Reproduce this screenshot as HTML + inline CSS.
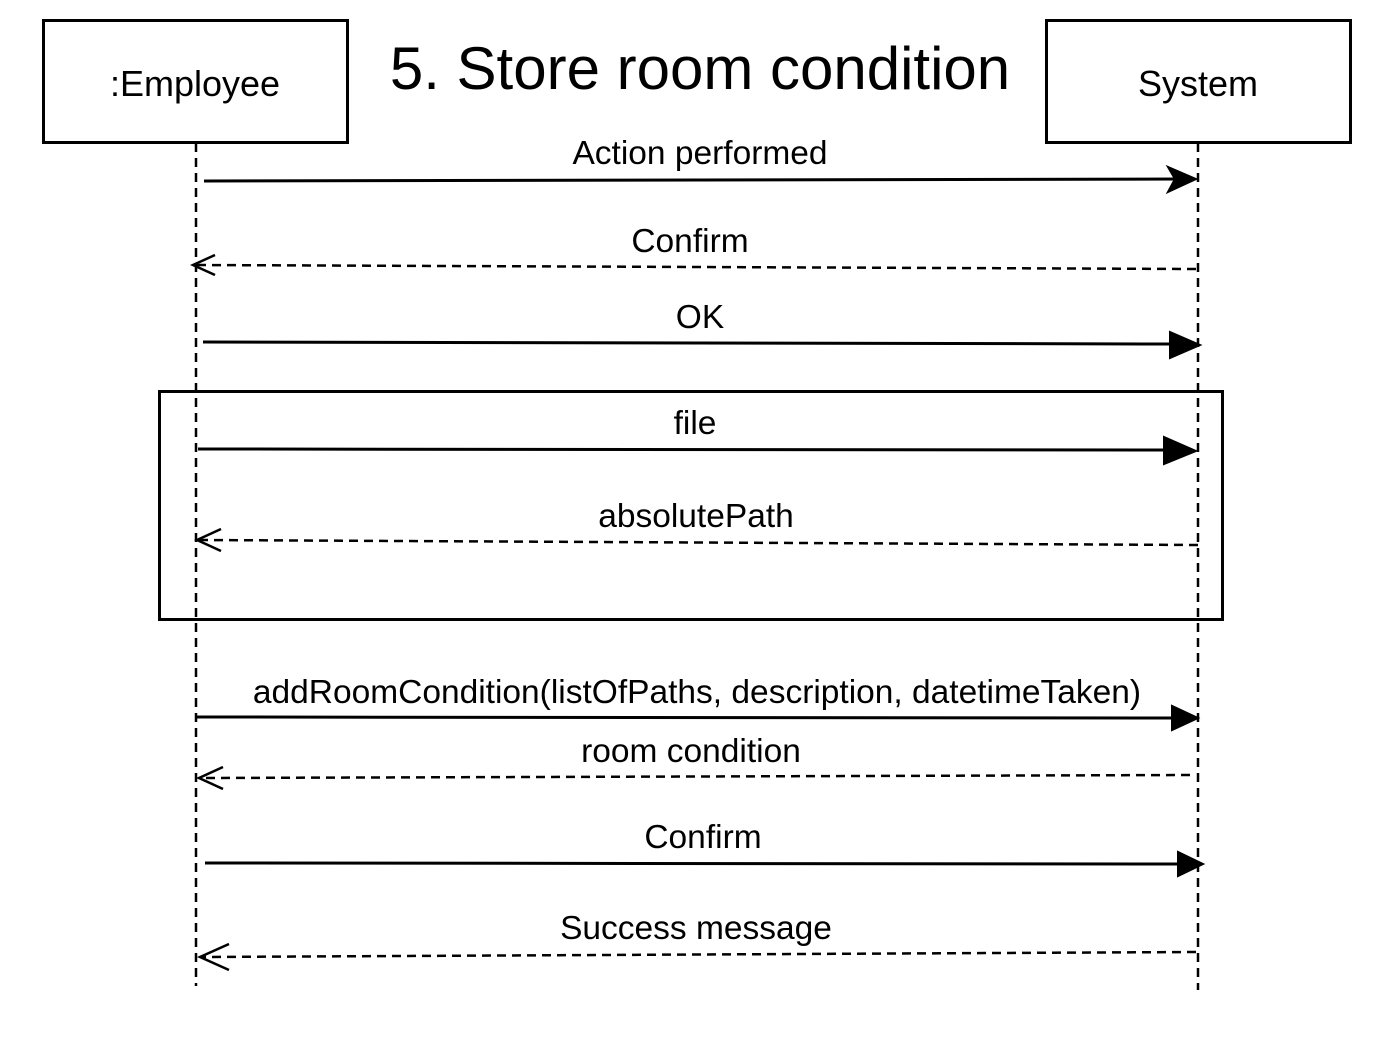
<!DOCTYPE html>
<html><head><meta charset="utf-8"><style>
html,body{margin:0;padding:0;background:#fff;}
svg{display:block;}
text{font-family:"Liberation Sans",Arial,sans-serif;fill:#000;}
</style></head><body>
<svg width="1397" height="1055" viewBox="0 0 1397 1055" xmlns="http://www.w3.org/2000/svg">
<rect x="43.5" y="20.5" width="304" height="122" fill="#fff" stroke="#000" stroke-width="3"/>
<text x="195" y="96" font-size="36" text-anchor="middle">:Employee</text>
<rect x="1046.5" y="20.5" width="304" height="122" fill="#fff" stroke="#000" stroke-width="3"/>
<text x="1198" y="96" font-size="36" text-anchor="middle">System</text>
<text x="700" y="89" font-size="60" text-anchor="middle">5. Store room condition</text>

<g stroke="#000" stroke-width="2.5" stroke-dasharray="9,6" fill="none">
<line x1="196" y1="143" x2="196" y2="986"/>
<line x1="1198" y1="143" x2="1198" y2="990"/>
</g>

<rect x="159.5" y="391.5" width="1063" height="228" fill="none" stroke="#000" stroke-width="3"/>

<g font-size="33.5" text-anchor="middle">
<text x="700" y="164">Action performed</text>
<text x="690" y="252">Confirm</text>
<text x="700" y="328">OK</text>
<text x="695" y="434">file</text>
<text x="696" y="527">absolutePath</text>
<text x="697" y="703">addRoomCondition(listOfPaths, description, datetimeTaken)</text>
<text x="691" y="762">room condition</text>
<text x="703" y="848">Confirm</text>
<text x="696" y="939">Success message</text>
</g>

<g stroke="#000" stroke-width="3" fill="none">
<line x1="204" y1="181" x2="1180" y2="179"/>
<line x1="203" y1="342" x2="1172" y2="344"/>
<line x1="198" y1="449" x2="1166" y2="450"/>
<line x1="197" y1="717" x2="1172" y2="718"/>
<line x1="205" y1="863" x2="1178" y2="864"/>
</g>
<g fill="#000" stroke="#000" stroke-width="2">
<path d="M1196,179 L1168,167 L1175,179 L1168,192 Z"/>
<path d="M1200,345 L1170,332 L1170,358 Z"/>
<path d="M1196,451 L1164,437 L1164,464 Z"/>
<path d="M1198,718 L1172,706 L1172,730 Z"/>
<path d="M1203,864 L1178,852 L1178,876 Z"/>
</g>

<g stroke="#000" stroke-width="2.5" stroke-dasharray="9,6" fill="none">
<line x1="1196" y1="269" x2="195" y2="265"/>
<line x1="1198" y1="545" x2="199" y2="540"/>
<line x1="1190" y1="775" x2="201" y2="778"/>
<line x1="1196" y1="952" x2="202" y2="957"/>
</g>
<g stroke="#000" stroke-width="2.5" fill="none">
<path d="M215,255 L193,265 L215,275"/>
<path d="M221,529 L197,540 L221,551"/>
<path d="M223,767 L199,778 L223,789"/>
<path d="M229,944 L200,957 L229,970"/>
</g>
</svg>
</body></html>
